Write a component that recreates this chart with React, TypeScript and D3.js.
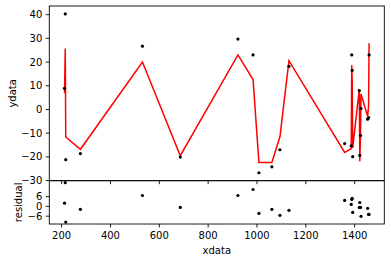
import React from 'react';
import * as d3 from 'd3';

const xdata = [212, 215, 217, 277, 531, 686, 922, 984, 1008, 1061, 1094, 1131, 1359, 1386, 1388, 1390, 1392, 1419, 1421, 1424, 1426, 1453, 1457, 1459];
const ydata = [8.9, 40.3, -21.2, -18.6, 26.7, -20.1, 29.7, 23.0, -26.7, -24.2, -17.0, 18.2, -14.4, -15.3, 23.0, 16.5, -19.9, 8.0, -19.4, -11.0, 0.4, -4.1, -3.4, 23.0];
const yfit = [6.9, 25.7, -11.6, -16.8, 20.0, -19.5, 23.0, 12.6, -22.4, -22.4, -11.5, 20.6, -18.1, -16.5, 18.7, 11.6, -16.2, 8.6, -21.8, -10.4, 6.5, -2.9, 1.5, 27.9];
const xTicks = [200, 400, 600, 800, 1000, 1200, 1400];
const yTicks = [-30, -20, -10, 0, 10, 20, 30, 40];
const rTicks = [-6, 0, 6];

const fmt = (v: number) => String(v).replace('-', '\u2212');

export default function App() {
  const W = 391, H = 262;
  const left = 49.3, right = 384.3, top = 6, mid = 180.7, bottom = 224;
  const pad = (ext: [number, number]): [number, number] => {
    const r = ext[1] - ext[0];
    return [ext[0] - 0.05 * r, ext[1] + 0.05 * r];
  };
  const x = d3.scaleLinear().domain(pad(d3.extent(xdata) as [number, number])).range([left, right]);
  const y = d3.scaleLinear().domain(pad(d3.extent(ydata.concat(yfit)) as [number, number])).range([mid, top]);
  const resid = ydata.map((v, i) => v - yfit[i]);
  const r = d3.scaleLinear().domain(pad(d3.extent(resid) as [number, number])).range([bottom, mid]);
  const line = d3.line<number>().x((_d, i) => x(xdata[i])).y((d) => y(d));
  const font = 'DejaVu Sans, sans-serif';
  const tl = 3.5;

  return (
    <svg width={W} height={H} style={{ position: 'absolute', left: 0, top: 0, background: '#fff' }} fontFamily={font}>
      <defs>
        <clipPath id="mainClip">
          <rect x={left} y={top} width={right - left} height={mid - top} />
        </clipPath>
      </defs>
      {/* main plot */}
      <path d={line(yfit) || ''} fill="none" stroke="#ff0000" strokeWidth={1.5} clipPath="url(#mainClip)" />
      {xdata.map((xv, i) => (
        <circle key={'p' + i} cx={x(xv)} cy={y(ydata[i])} r={1.6} fill="#000" />
      ))}
      {/* residual plot */}
      {xdata.map((xv, i) => (
        <circle key={'r' + i} cx={x(xv)} cy={r(resid[i])} r={1.6} fill="#000" />
      ))}
      {/* frames */}
      <rect x={left} y={top} width={right - left} height={mid - top} fill="none" stroke="#000" strokeWidth={0.9} />
      <rect x={left} y={mid} width={right - left} height={bottom - mid} fill="none" stroke="#000" strokeWidth={0.9} />
      {/* x ticks on main (no labels) */}
      {xTicks.map((t) => (
        <line key={'mx' + t} x1={x(t)} x2={x(t)} y1={mid} y2={mid + tl} stroke="#000" strokeWidth={0.9} />
      ))}
      {/* x ticks on residual */}
      {xTicks.map((t) => (
        <g key={'rx' + t}>
          <line x1={x(t)} x2={x(t)} y1={bottom} y2={bottom + tl} stroke="#000" strokeWidth={0.9} />
          <text x={x(t)} y={bottom + tl + 3.5 + 7.5} textAnchor="middle" fontSize={10} fill="#000">{fmt(t)}</text>
        </g>
      ))}
      {/* y ticks main */}
      {yTicks.map((t) => (
        <g key={'my' + t}>
          <line x1={left - tl} x2={left} y1={y(t)} y2={y(t)} stroke="#000" strokeWidth={0.9} />
          <text x={left - tl - 3.5} y={y(t)} dy="0.35em" textAnchor="end" fontSize={10} fill="#000">{fmt(t)}</text>
        </g>
      ))}
      {/* y ticks residual */}
      {rTicks.map((t) => (
        <g key={'ry' + t}>
          <line x1={left - tl} x2={left} y1={r(t)} y2={r(t)} stroke="#000" strokeWidth={0.9} />
          <text x={left - tl - 3.5} y={r(t)} dy="0.35em" textAnchor="end" fontSize={10} fill="#000">{fmt(t)}</text>
        </g>
      ))}
      <text x={(left + right) / 2} y={254} textAnchor="middle" fontSize={10} fill="#000">xdata</text>
      <text transform={`translate(15.5, ${(top + mid) / 2}) rotate(-90)`} textAnchor="middle" fontSize={10} fill="#000">ydata</text>
      <text transform={`translate(21.5, ${(mid + bottom) / 2}) rotate(-90)`} textAnchor="middle" fontSize={10} fill="#000">residual</text>
    </svg>
  );
}
